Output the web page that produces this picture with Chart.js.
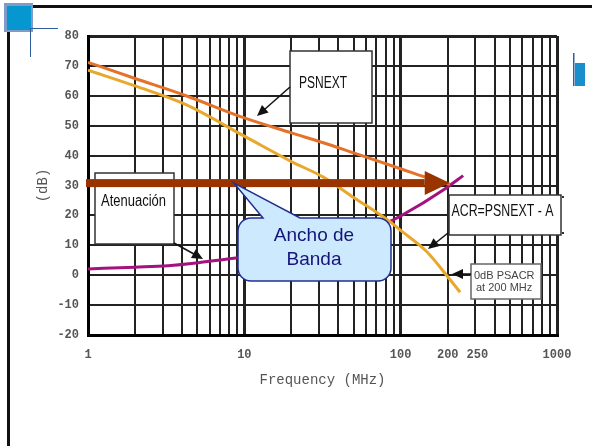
<!DOCTYPE html>
<html>
<head>
<meta charset="utf-8">
<script src="https://cdn.jsdelivr.net/npm/chart.js@4.4.1/dist/chart.umd.min.js"></script>
<style>
  html, body { margin: 0; padding: 0; background: #fff; }
  canvas { display: block; }
</style>
</head>
<body>
<canvas id="chart" width="592" height="446"></canvas>
<script>
// frequencies in MHz, levels in dB
const psnextFreq = [1, 2, 4.2, 10, 20, 32, 50, 100, 140, 207];
const psnextDb = [71.2, 65.8, 60.1, 52.6, 47.6, 44.3, 40.9, 35.6, 33.0, 30.4];
const acrFreq = [1, 2, 4.2, 10, 20, 32, 50, 85, 100, 146, 200, 240];
const acrDb = [68.6, 63.3, 57.1, 46.5, 38, 32.8, 26, 18, 15, 8, -0.5, -5.7];
const attFreq = [1, 2, 3.25, 5.3, 9.1, 20, 32, 50, 83, 100, 196, 251];
const attDb = [2.1, 2.7, 3.2, 4.3, 5.8, 8.5, 10.8, 13.5, 17.7, 19.8, 29.2, 33.3];

const xTickLabels = [1, 10, 100, 200, 250, 1000];
const yMin = -20, yMax = 80, yStep = 10;
const bandLevel = 30.8;   // dB, level of the bandwidth arrow
const bandEnd = 200;      // MHz

// log grid: 1..9, 10..90, 100..900, 1000 (+ 250 for its label only)
const gridFreq = [];
for (let d = 1; d < 1000; d *= 10) {
    for (let k = 1; k < 10; k++) gridFreq.push(k * d);
}
gridFreq.push(1000);
const xTicks = gridFreq.concat([250]).sort((a, b) => a - b);

const toPoints = (xs, ys) => xs.map((x, i) => ({ x: x, y: ys[i] }));

function arrow(c, x1, y1, x2, y2, len, half) {
    const a = Math.atan2(y2 - y1, x2 - x1);
    c.beginPath();
    c.moveTo(x1, y1);
    c.lineTo(x2 - Math.cos(a) * len * 0.8, y2 - Math.sin(a) * len * 0.8);
    c.stroke();
    c.beginPath();
    c.moveTo(x2, y2);
    c.lineTo(x2 - Math.cos(a) * len + Math.sin(a) * half, y2 - Math.sin(a) * len - Math.cos(a) * half);
    c.lineTo(x2 - Math.cos(a) * len - Math.sin(a) * half, y2 - Math.sin(a) * len + Math.cos(a) * half);
    c.closePath();
    c.fill();
}

function box(c, x, y, w, h, border) {
    c.fillStyle = '#fff';
    c.fillRect(x, y, w, h);
    c.strokeStyle = border;
    c.lineWidth = 1.5;
    c.strokeRect(x, y, w, h);
}

const slide = {
    id: 'slide',
    beforeDraw(chart) {
        const c = chart.ctx;
        c.save();
        c.fillStyle = '#fff';
        c.fillRect(0, 0, chart.width, chart.height);
        // slide frame
        c.fillStyle = '#111';
        c.fillRect(33, 5, 559, 3);
        c.fillRect(7, 30, 3, 416);
        // corner square
        c.fillStyle = '#7f9cc8';
        c.fillRect(4, 3, 29, 29);
        c.fillStyle = '#0697d0';
        c.fillRect(7, 6, 24, 24);
        c.strokeStyle = '#2e5e9e';
        c.lineWidth = 1;
        c.beginPath();
        c.moveTo(30, 28.5); c.lineTo(58, 28.5);
        c.moveTo(30.5, 28); c.lineTo(30.5, 57);
        c.stroke();
        // marker on the right
        c.fillStyle = '#2f5fa0';
        c.fillRect(573, 53, 1.5, 33);
        c.fillStyle = '#1a8fcc';
        c.fillRect(575, 63, 10, 23);
        c.restore();
    },
    afterDatasetsDraw(chart) {
        const c = chart.ctx;
        const xs = chart.scales.x, ys = chart.scales.y;
        c.save();

        // label boxes
        box(c, 290, 51, 82, 72, '#333');
        box(c, 95, 173, 79, 71, '#333');
        box(c, 449, 195, 112, 40, '#333');
        box(c, 471, 264, 70, 35, '#666');
        c.fillStyle = '#333';
        c.fillRect(562, 196, 2, 2);
        c.fillRect(562, 232, 2, 2);

        // bandwidth arrow
        const by = ys.getPixelForValue(bandLevel);
        const bx0 = xs.getPixelForValue(1) - 2;
        const bx1 = xs.getPixelForValue(bandEnd) + 2;
        c.fillStyle = '#993300';
        c.fillRect(bx0, by - 4, bx1 - 25 - bx0, 8);
        c.beginPath();
        c.moveTo(bx1, by);
        c.lineTo(bx1 - 25, by - 12);
        c.lineTo(bx1 - 25, by + 12);
        c.closePath();
        c.fill();

        // callout
        const L = 238, T = 218, R = 391, B = 281, r = 13;
        c.beginPath();
        c.moveTo(L + r, T);
        c.lineTo(263, T);
        c.lineTo(234, by);
        c.lineTo(300, T);
        c.lineTo(R - r, T);
        c.arcTo(R, T, R, T + r, r);
        c.lineTo(R, B - r);
        c.arcTo(R, B, R - r, B, r);
        c.lineTo(L + r, B);
        c.arcTo(L, B, L, B - r, r);
        c.lineTo(L, T + r);
        c.arcTo(L, T, L + r, T, r);
        c.closePath();
        c.fillStyle = '#cde9fd';
        c.fill();
        c.strokeStyle = '#1f2f8f';
        c.lineWidth = 1.5;
        c.stroke();
        c.fillStyle = '#14147a';
        c.font = '19px "Liberation Sans", Arial, sans-serif';
        c.textAlign = 'center';
        c.textBaseline = 'alphabetic';
        c.fillText('Ancho de', 314, 241);
        c.fillText('Banda', 314, 265);

        // pointer arrows
        c.strokeStyle = '#111';
        c.fillStyle = '#111';
        c.lineWidth = 1.5;
        arrow(c, 290, 87, 257, 116, 11, 5);
        arrow(c, 174, 243, 203, 259, 11, 5);
        arrow(c, 448, 233, 428, 249, 11, 5);
        arrow(c, 471, 274, 452, 274, 11, 5);

        // box texts
        c.textAlign = 'left';
        c.fillStyle = '#111';
        c.font = '16px "Liberation Sans Narrow", "Liberation Sans", sans-serif';
        c.fillText('PSNEXT', 299, 88, 48);
        c.fillText('Atenuación', 101, 206, 65);
        c.fillText('ACR=PSNEXT - A', 451.5, 216, 102);
        c.fillStyle = '#444';
        c.font = '11px "Liberation Sans", Arial, sans-serif';
        c.fillText('0dB PSACR', 474, 279, 66);
        c.fillText('at 200 MHz', 476, 291, 60);

        c.restore();
    }
};

const gridColor = '#222';

new Chart(document.getElementById('chart'), {
    type: 'line',
    data: {
        datasets: [
            {
                label: 'PSNEXT',
                data: toPoints(psnextFreq, psnextDb),
                borderColor: '#e4722a',
                borderWidth: 3,
                pointRadius: 0,
                cubicInterpolationMode: 'monotone'
            },
            {
                label: 'ACR',
                data: toPoints(acrFreq, acrDb),
                borderColor: '#e9a82b',
                borderWidth: 3,
                pointRadius: 0,
                cubicInterpolationMode: 'monotone'
            },
            {
                label: 'Atenuación',
                data: toPoints(attFreq, attDb),
                borderColor: '#a4127e',
                borderWidth: 3,
                pointRadius: 0,
                cubicInterpolationMode: 'monotone'
            }
        ]
    },
    options: {
        responsive: false,
        animation: false,
        layout: { padding: { left: 30, top: 36, right: 35, bottom: 54 } },
        plugins: { legend: { display: false }, tooltip: { enabled: false } },
        scales: {
            x: {
                type: 'logarithmic',
                min: 1,
                max: 1000,
                afterBuildTicks: (scale) => { scale.ticks = xTicks.map(v => ({ value: v })); },
                afterFit: (scale) => { scale.height = 57; },
                grid: {
                    drawTicks: false,
                    color: (ctx) => ctx.tick && ctx.tick.value === 250 ? 'rgba(0,0,0,0)' : gridColor,
                    lineWidth: (ctx) => {
                        const v = ctx.tick ? ctx.tick.value : 0;
                        return (v === 1 || v === 10 || v === 100 || v === 1000) ? 3 : 2;
                    }
                },
                border: { display: true, color: '#000', width: 3 },
                ticks: {
                    autoSkip: false,
                    maxRotation: 0,
                    minRotation: 0,
                    padding: 13,
                    color: '#555',
                    font: { family: '"Liberation Mono", "Courier New", monospace', size: 12, weight: 'bold' },
                    callback: (v) => {
                        if (v === 250) return '    250';
                        return xTickLabels.includes(v) ? String(v) : '';
                    }
                },
                title: {
                    display: true,
                    text: 'Frequency (MHz)',
                    color: '#555',
                    font: { family: '"Liberation Mono", "Courier New", monospace', size: 14 },
                    padding: { top: 4, bottom: 3 }
                }
            },
            y: {
                min: yMin,
                max: yMax,
                afterFit: (scale) => { scale.width = 58; },
                grid: {
                    drawTicks: false,
                    color: gridColor,
                    lineWidth: (ctx) => ctx.tick && ctx.tick.value === yMax ? 3 : 2
                },
                border: { display: true, color: '#000', width: 3 },
                ticks: {
                    stepSize: yStep,
                    padding: 9,
                    color: '#555',
                    font: { family: '"Liberation Mono", "Courier New", monospace', size: 12, weight: 'bold' }
                },
                title: {
                    display: true,
                    text: '(dB)',
                    color: '#555',
                    font: { family: '"Liberation Mono", "Courier New", monospace', size: 14 },
                    padding: { top: 5, bottom: 0 }
                }
            }
        }
    },
    plugins: [slide]
});
</script>
</body>
</html>
